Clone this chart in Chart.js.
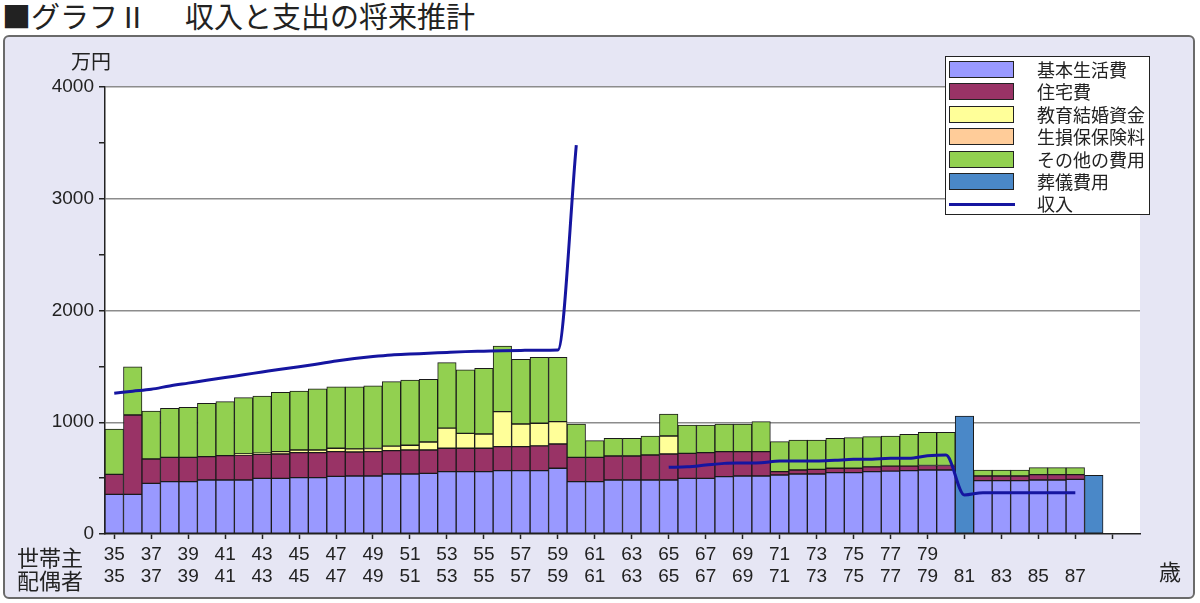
<!DOCTYPE html>
<html><head><meta charset="utf-8">
<script src="https://cdn.jsdelivr.net/npm/chart.js@4/dist/chart.umd.min.js"></script>
<style>
html,body{margin:0;padding:0;background:#fff;width:1200px;height:603px;overflow:hidden;font-family:"Noto Sans CJK JP","Noto Sans",sans-serif;}
#title{position:absolute;left:2px;top:1px;font-size:29px;line-height:29px;color:#222;white-space:nowrap;}
#title .gap{display:inline-block;width:38px;}
#frame{position:absolute;left:3px;top:35px;width:1188px;height:560px;border:2px solid #6a6a6a;border-radius:6px;background:#E6E6F4;}
#wrap{position:absolute;left:0;top:0;width:1200px;height:603px;}
.lbl{position:absolute;white-space:nowrap;color:#222;}
#legend{position:absolute;left:945px;top:56px;width:203px;height:157px;background:#fff;border:1.5px solid #222;}
.sw{position:absolute;left:3px;width:63px;height:15px;border:1.5px solid #222;}
.ln{position:absolute;left:3px;width:66px;height:3px;background:#1515a0;}
.lt{position:absolute;left:91px;font-size:18px;line-height:20px;color:#222;white-space:nowrap;}
</style></head>
<body>
<div id="title">■グラフⅡ<span class="gap">　</span>収入と支出の将来推計</div>
<div id="frame"></div>
<div id="wrap"><canvas id="c" width="1200" height="603"></canvas></div>
<div class="lbl" style="left:71px;top:51px;font-size:20px;line-height:20px;">万円</div>
<div class="lbl" style="left:17px;top:545px;font-size:22px;line-height:22px;">世帯主</div>
<div class="lbl" style="left:17px;top:568px;font-size:22px;line-height:22px;">配偶者</div>
<div class="lbl" style="left:1159px;top:559px;font-size:22px;line-height:22px;">歳</div>
<div id="legend"></div>
<script>
// Categories: household-head age (35 .. 90)
const ages = [35,36,37,38,39,40,41,42,43,44,45,46,47,48,49,50,51,52,53,54,55,56,57,58,59,60,61,62,63,64,65,66,67,68,69,70,71,72,73,74,75,76,77,78,79,80,81,82,83,84,85,86,87,88,89,90];
// Tick labels shown on the two label rows
const headTickAges = [35,37,39,41,43,45,47,49,51,53,55,57,59,61,63,65,67,69,71,73,75,77,79];
const spouseTickAges = [35,37,39,41,43,45,47,49,51,53,55,57,59,61,63,65,67,69,71,73,75,77,79,81,83,85,87];
const yTickLabels = [0,1000,2000,3000,4000];

// Series (万円)
const basicLiving = [355,355,453,468,468,483,483,483,498,498,504,504,516,519,519,537,537,543,558,558,558,567,567,567,588,468,468,483,483,483,483,498,498,513,519,519,528,537,537,549,549,558,562,567,573,573,0,477,477,477,483,483,489,0,null,null];
const housing = [179,710,218,218,218,209,218,224,215,218,224,224,221,215,218,209,215,209,209,209,209,215,215,221,217,218,218,215,215,224,233,224,230,224,218,218,30,36,42,39,39,42,45,41,40,40,0,42,42,42,48,48,42,0,null,null];
const education = [0,0,0,0,0,0,0,10,10,21,24,24,30,28,28,41,42,71,180,134,128,313,202,203,200,0,0,0,0,0,161,0,0,0,0,0,0,0,0,0,0,0,0,0,0,0,0,0,0,0,0,0,0,0,null,null];
const insurance = [0,0,0,0,0,0,0,0,0,0,0,0,0,0,0,0,0,0,0,0,0,0,0,0,0,0,0,0,0,0,0,0,0,0,0,0,0,0,0,0,0,0,0,0,0,0,0,0,0,0,0,0,0,0,null,null];
const otherCosts = [406,432,429,439,448,477,483,503,512,531,528,546,551,556,562,576,584,561,586,567,588,587,579,590,576,298,149,158,158,170,197,253,247,247,247,268,268,268,262,268,275,271,270,284,297,297,0,54,54,54,63,63,63,0,null,null];
const funeral = [0,0,0,0,0,0,0,0,0,0,0,0,0,0,0,0,0,0,0,0,0,0,0,0,0,0,0,0,0,0,0,0,0,0,0,0,0,0,0,0,0,0,0,0,0,0,1056,0,0,0,0,0,0,525,null,null];
const income = [1260,1278,1295,1325,1350,1375,1400,1425,1450,1475,1497,1522,1548,1570,1588,1602,1610,1617,1625,1632,1636,1640,1643,1645,1647,3480,null,null,null,null,597,602,617,632,635,638,653,653,653,660,668,670,677,677,700,707,349,370,370,370,370,370,370,null,null,null];

const seriesNames = ['基本生活費','住宅費','教育結婚資金','生損保保険料','その他の費用','葬儀費用','収入'];
const seriesColors = ['#9999FF','#993366','#FFFF99','#FFCC99','#92D050','#4A88C8','#1515A0'];
const barSeries = [basicLiving, housing, education, insurance, otherCosts, funeral];

const nz = arr => arr.map(v => (v === 0 ? null : v));
const FONT = '"Liberation Sans","Noto Sans CJK JP",sans-serif';

const datasets = [{
  type: 'line', label: seriesNames[6], data: income, stack: 'income', order: -1,
  borderColor: seriesColors[6], borderWidth: 3, pointRadius: 0, spanGaps: false,
  cubicInterpolationMode: 'monotone', fill: false
}];
barSeries.forEach((arr, i) => {
  datasets.push({
    type: 'bar', label: seriesNames[i], data: nz(arr), stack: 'cost',
    backgroundColor: seriesColors[i], borderColor: '#1a1a1a', borderWidth: 1,
    borderSkipped: false, barPercentage: 1, categoryPercentage: 1
  });
});

const whiteArea = {
  id: 'whiteArea',
  beforeDraw(chart) {
    const {ctx, chartArea: a} = chart;
    ctx.save(); ctx.fillStyle = '#fff';
    ctx.fillRect(a.left, a.top, a.right - a.left, a.bottom - a.top);
    ctx.restore();
  }
};

new Chart(document.getElementById('c'), {
  data: { labels: ages, datasets },
  options: {
    responsive: false, devicePixelRatio: 1, animation: false,
    layout: { padding: { left: 0, top: 87, right: 60, bottom: 0 } },
    plugins: { legend: { display: false }, tooltip: { enabled: false } },
    scales: {
      x: {
        type: 'category', offset: true, stacked: true,
        grid: { offset: false, drawOnChartArea: false, drawTicks: true, tickLength: 5, tickWidth: 1.5,
          tickColor: c => (ages[c.index] % 2 === 1 ? '#222' : 'rgba(0,0,0,0)') },
        border: { display: true, color: '#222', width: 1.5 },
        ticks: { autoSkip: false, maxRotation: 0, minRotation: 0, padding: 5, color: '#222',
          font: { family: FONT, size: 19, lineHeight: 1.15 },
          callback: (v, i) => {
            const a = ages[i];
            return [headTickAges.includes(a) ? String(a) : '', spouseTickAges.includes(a) ? String(a) : ''];
          } },
        afterFit: s => { s.height = 69; s.paddingLeft = 0; s.paddingRight = 0; }
      },
      y: {
        stacked: true, min: 0, max: 4000,
        grid: { color: c => (c.tick && c.tick.value > 0 && yTickLabels.includes(c.tick.value) ? '#8c8c8c' : 'rgba(0,0,0,0)'),
          lineWidth: 1.5, tickColor: '#222', tickLength: 6, tickWidth: 1.5 },
        border: { display: true, color: '#222', width: 1.5 },
        ticks: { stepSize: 500, padding: 5, color: '#222', font: { family: FONT, size: 19 },
          callback: v => (yTickLabels.includes(v) ? String(v) : '') },
        afterFit: s => { s.width = 105; s.paddingTop = 0; s.paddingBottom = 0; }
      }
    }
  },
  plugins: [whiteArea]
});

// Legend built from the series names and colours
const lg = document.getElementById('legend');
seriesNames.forEach((name, i) => {
  const cy = 13 + i * 22.4;
  const mark = document.createElement('div');
  if (i < 6) { mark.className = 'sw'; mark.style.top = (cy - 9) + 'px'; mark.style.background = seriesColors[i]; }
  else { mark.className = 'ln'; mark.style.top = (cy - 1.5) + 'px'; }
  lg.appendChild(mark);
  const t = document.createElement('div');
  t.className = 'lt'; t.style.top = (cy - 11) + 'px'; t.textContent = name;
  lg.appendChild(t);
});
</script>
</body></html>
